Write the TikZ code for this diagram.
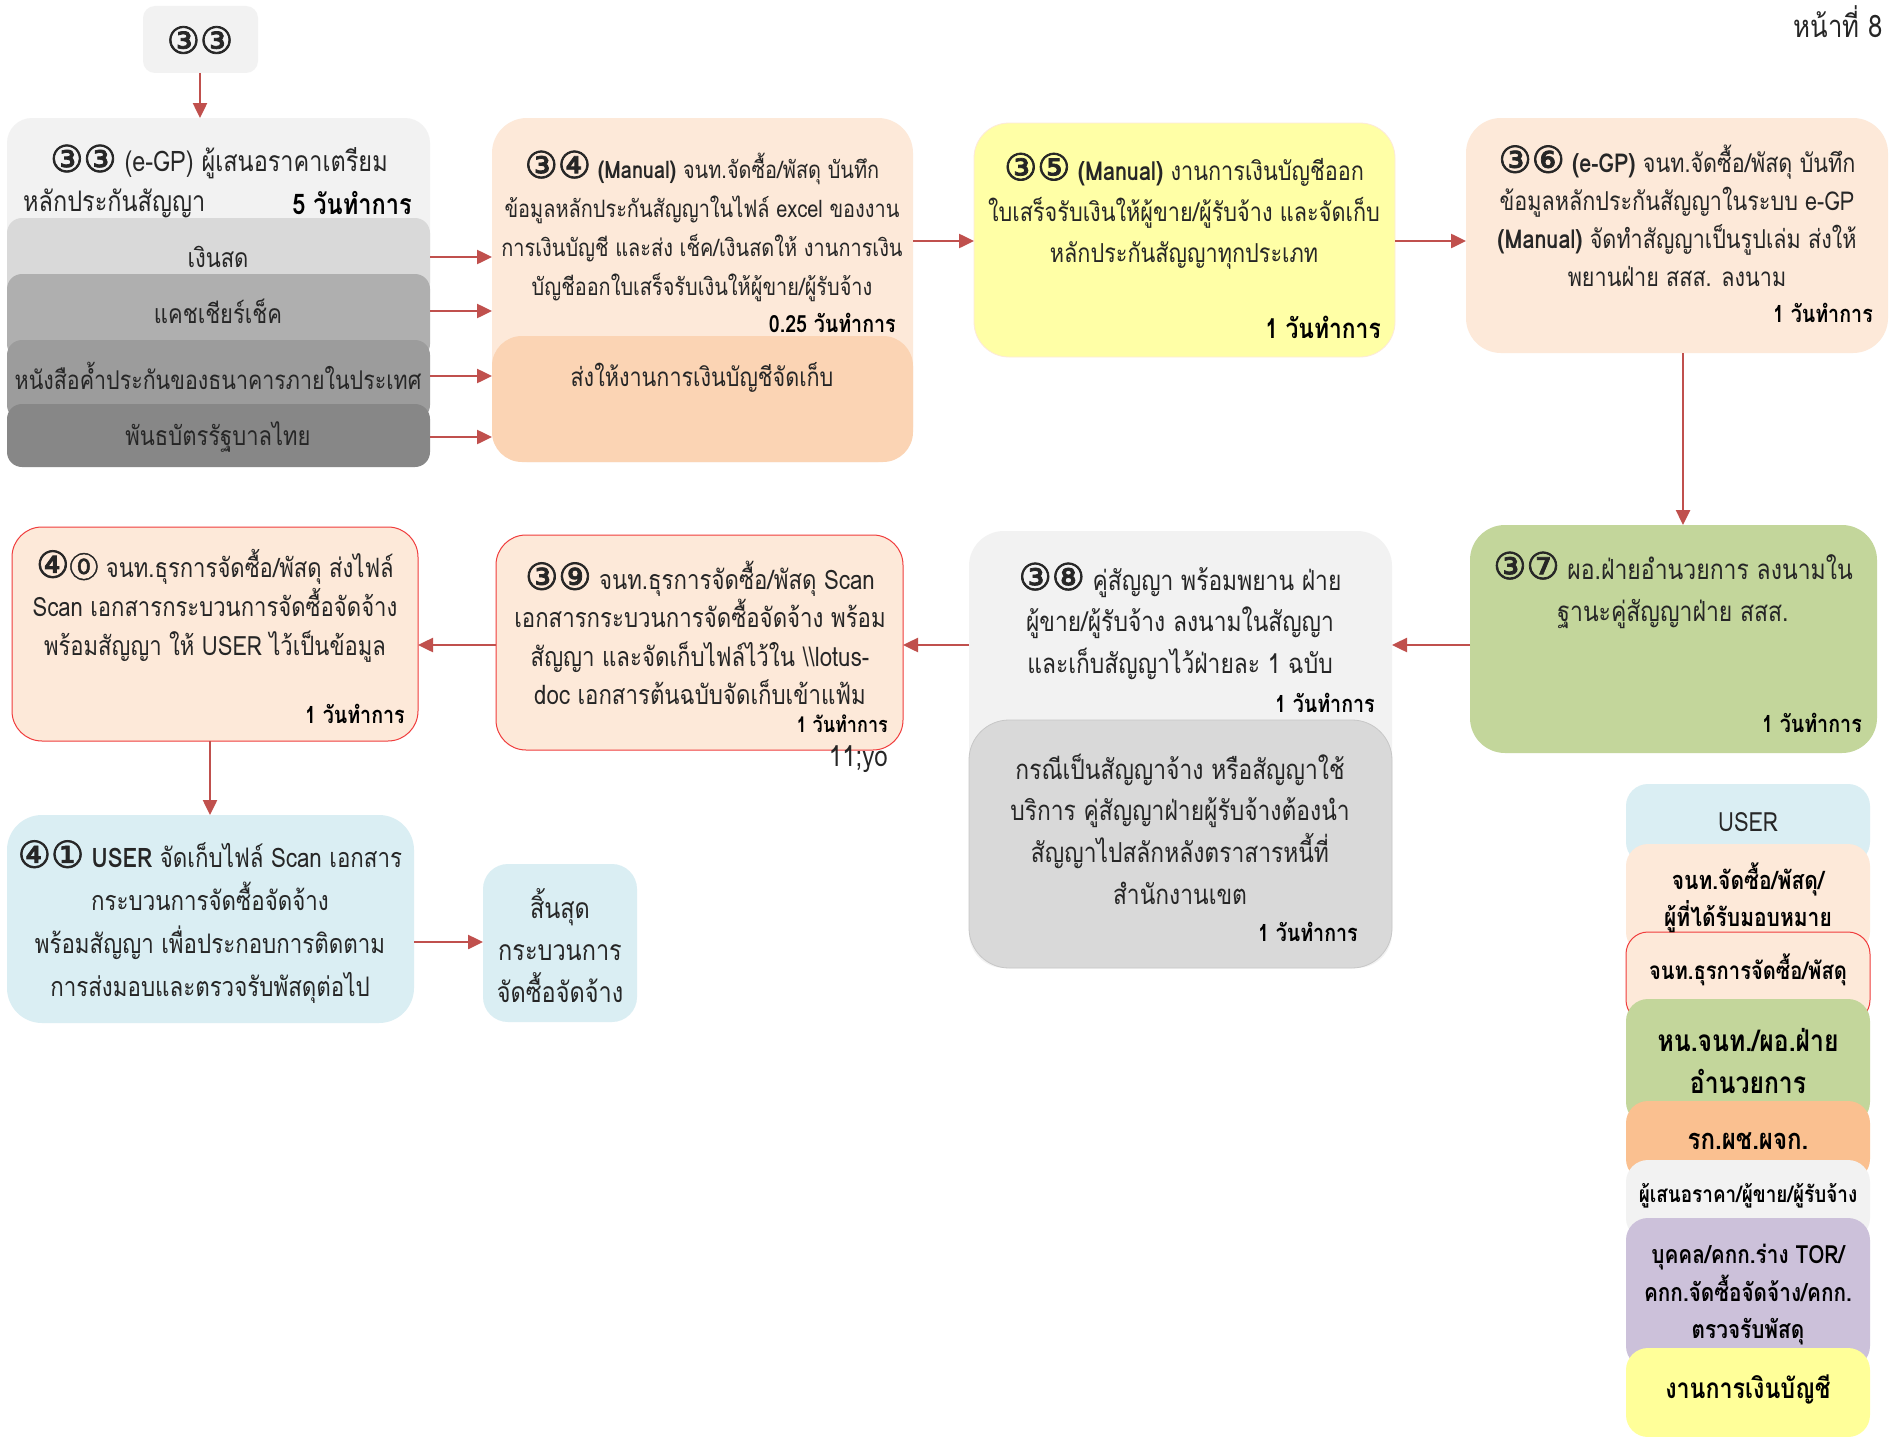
\documentclass[tikz,border=0pt]{standalone}
\usepackage{fontspec}
\newfontfamily\thfont[Script=Thai, FakeStretch=0.83]{Loma}
\newfontfamily\dvfont[FakeBold=2]{DejaVu Sans}
\newfontfamily\cjkfont[FakeBold=1.5]{Noto Sans CJK SC}
\usetikzlibrary{arrows.meta}
\definecolor{arrc}{HTML}{C0504D}
\definecolor{gA}{HTML}{F2F2F2}
\definecolor{gB}{HTML}{D9D9D9}
\definecolor{gC}{HTML}{AFAFAF}
\definecolor{gD}{HTML}{9C9C9C}
\definecolor{gE}{HTML}{878787}
\definecolor{peach}{HTML}{FDE9D9}
\definecolor{peachB}{HTML}{FBD4B4}
\definecolor{yel}{HTML}{FFFFA6}
\definecolor{yelB}{HTML}{FFFF99}
\definecolor{grn}{HTML}{C3D69B}
\definecolor{blu}{HTML}{DAEEF3}
\definecolor{org}{HTML}{FAC090}
\definecolor{lil}{HTML}{CCC1DA}
\definecolor{redb}{HTML}{F03C3C}
\newcommand\fz[2]{\fontsize{#1}{#2}\selectfont}
\newcommand\cnum[1]{{\dvfont\fontsize{37}{37}\selectfont #1}}
\newcommand\cjnum[1]{{\cjkfont\fontsize{29}{29}\selectfont #1}}
\tikzset{
  bx/.style={rounded corners=#1, anchor=north west, inner sep=0pt, outer sep=0pt},
  bx/.default=30pt,
  tx/.style={font=\thfont\fz{24}{39}, align=center, inner sep=0pt, text=black!85},
  dy/.style={font=\thfont\bfseries\fz{23.7}{26}, anchor=east, inner sep=0pt},
  lg/.style={font=\thfont\bfseries\fz{25}{37}, align=center, inner sep=0pt},
  arr/.style={draw=arrc, line width=2.5pt, -{Triangle[length=15pt,width=14pt]}},
}
\begin{document}
\begin{tikzpicture}[x=1pt,y=-1pt]
\useasboundingbox[fill=white] (0,0) rectangle (1891,1437);

% page number
\node[tx, anchor=east, font=\thfont\fz{31}{34}] (pg) at (1883,22) {หน้าที่ 8};

% top start
\node[bx=12pt, fill=gA, minimum width=115pt, minimum height=67pt] (top33) at (143,6) {};
\node[tx] (top33t) at (200,40) {\cnum{③③}};

% box 33
\node[bx=25pt, fill=gA, minimum width=423pt, minimum height=200pt] (b33) at (7,118) {};
\node[tx, font=\thfont\fz{28.3}{39}] (b33t) at (219,162) {\cnum{③③} (e-GP) ผู้เสนอราคาเตรียม};
\node[tx, anchor=west, font=\thfont\fz{28.3}{39}] (b33u) at (23,203) {หลักประกันสัญญา};
\node[dy, font=\thfont\bfseries\fz{28.4}{30}] (b33d) at (412,203) {5 วันทำการ};
\node[bx=15pt, fill=gB, minimum width=423pt, minimum height=80pt] (s1) at (7,218) {};
\node[bx=15pt, fill=gC, minimum width=423pt, minimum height=85pt] (s2) at (7,274) {};
\node[bx=15pt, fill=gD, minimum width=423pt, minimum height=80pt] (s3) at (7,340) {};
\node[bx=15pt, fill=gE, minimum width=423pt, minimum height=63pt] (s4) at (7,404) {};
\node[tx, font=\thfont\fz{26.5}{30}] (s1t) at (218,257) {เงินสด};
\node[tx, font=\thfont\fz{26.5}{30}] (s2t) at (218,311) {แคชเชียร์เช็ค};
\node[tx, font=\thfont\fz{25.8}{30}] (s3t) at (218,376) {หนังสือค้ำประกันของธนาคารภายในประเทศ};
\node[tx, font=\thfont\fz{26.5}{30}] (s4t) at (218,437) {พันธบัตรรัฐบาลไทย};

% box 34
\node[bx=35pt, fill=peach, minimum width=421pt, minimum height=344pt] (b34) at (492,118) {};
\node[bx=30pt, fill=peachB, minimum width=421pt, minimum height=126pt] (b34s) at (492,336) {};
\node[tx] (b34t) at (702,226) {\cnum{③④} \textbf{(Manual)} จนท.จัดซื้อ/พัสดุ บันทึก\\ข้อมูลหลักประกันสัญญาในไฟล์ excel ของงาน\\การเงินบัญชี และส่ง เช็ค/เงินสดให้ งานการเงิน\\บัญชีออกใบเสร็จรับเงินให้ผู้ขาย/ผู้รับจ้าง};
\node[dy] (b34d) at (896,323) {0.25 วันทำการ};
\node[tx, font=\thfont\fz{26}{30}] (b34u) at (702,377) {ส่งให้งานการเงินบัญชีจัดเก็บ};

% box 35
\node[bx=35pt, fill=yel, draw=peach, line width=0.8pt, minimum width=421pt, minimum height=234pt] (b35) at (974,123) {};
\node[tx, font=\thfont\fz{26.1}{41}] (b35t) at (1184,211) {\cnum{③⑤} \textbf{(Manual)} งานการเงินบัญชีออก\\ใบเสร็จรับเงินให้ผู้ขาย/ผู้รับจ้าง และจัดเก็บ\\หลักประกันสัญญาทุกประเภท};
\node[dy, font=\thfont\bfseries\fz{27.5}{30}] (b35d) at (1381,327) {1 วันทำการ};

% box 36
\node[bx=35pt, fill=peach, minimum width=422pt, minimum height=235pt] (b36) at (1466,118) {};
\node[tx, font=\thfont\fz{26}{38}] (b36t) at (1677,216) {\cnum{③⑥} \textbf{(e-GP)} จนท.จัดซื้อ/พัสดุ บันทึก\\ข้อมูลหลักประกันสัญญาในระบบ e-GP\\\textbf{(Manual)} จัดทำสัญญาเป็นรูปเล่ม ส่งให้\\พยานฝ่าย สสส. ลงนาม};
\node[dy] (b36d) at (1873,313) {1 วันทำการ};

% box 37
\node[bx=35pt, fill=grn, minimum width=407pt, minimum height=228pt] (b37) at (1470,525) {};
\node[tx, font=\thfont\fz{27.7}{42}] (b37t) at (1673,590) {\cnum{③⑦} ผอ.ฝ่ายอำนวยการ ลงนามใน\\ฐานะคู่สัญญาฝ่าย สสส.};
\node[dy] (b37d) at (1862,723) {1 วันทำการ};

% box 38
\node[bx=35pt, fill=gA, minimum width=423pt, minimum height=437pt] (b38) at (969,531) {};
\node[bx=40pt, fill=gB, draw=black!22, line width=0.8pt, minimum width=423pt, minimum height=248pt] (b38s) at (969,720) {};
\node[tx, font=\thfont\fz{27.5}{41.5}] (b38t) at (1180,621) {\cnum{③⑧} คู่สัญญา พร้อมพยาน ฝ่าย\\ผู้ขาย/ผู้รับจ้าง ลงนามในสัญญา\\และเก็บสัญญาไว้ฝ่ายละ 1 ฉบับ};
\node[dy] (b38d) at (1375,703) {1 วันทำการ};
\node[tx, font=\thfont\fz{27.5}{41.7}] (b38u) at (1180,829) {กรณีเป็นสัญญาจ้าง หรือสัญญาใช้\\บริการ คู่สัญญาฝ่ายผู้รับจ้างต้องนำ\\สัญญาไปสลักหลังตราสารหนี้ที่\\สำนักงานเขต};
\node[dy] (b38e) at (1358,932) {1 วันทำการ};

% box 39
\node[bx=30pt, fill=peach, draw=redb, line width=1pt, minimum width=407pt, minimum height=215pt] (b39) at (496,535) {};
\node[tx, font=\thfont\fz{26.8}{38.3}] (b39t) at (700,633) {\cnum{③⑨} จนท.ธุรการจัดซื้อ/พัสดุ Scan\\เอกสารกระบวนการจัดซื้อจัดจ้าง พร้อม\\สัญญา และจัดเก็บไฟล์ไว้ใน \textbackslash\textbackslash lotus-\\doc เอกสารต้นฉบับจัดเก็บเข้าแฟ้ม};
\node[dy, font=\thfont\bfseries\fz{21.7}{24}] (b39d) at (888,724) {1 วันทำการ};
\node[tx, anchor=east, font=\thfont\fz{29}{32}] (note) at (888,759) {11;yo};

% box 40
\node[bx=30pt, fill=peach, draw=redb, line width=1pt, minimum width=406pt, minimum height=214pt] (b40) at (12,527) {};
\node[tx, font=\thfont\fz{26.6}{39}] (b40t) at (215,606) {\cnum{④}\cjnum{⓪} จนท.ธุรการจัดซื้อ/พัสดุ ส่งไฟล์\\Scan เอกสารกระบวนการจัดซื้อจัดจ้าง\\พร้อมสัญญา ให้ USER ไว้เป็นข้อมูล};
\node[dy] (b40d) at (405,714) {1 วันทำการ};

% box 41
\node[bx=35pt, fill=blu, minimum width=407pt, minimum height=208pt] (b41) at (7,815) {};
\node[tx, font=\thfont\fz{26.9}{43}] (b41t) at (210,922) {\cnum{④①} \textbf{USER} จัดเก็บไฟล์ Scan เอกสาร\\กระบวนการจัดซื้อจัดจ้าง\\พร้อมสัญญา เพื่อประกอบการติดตาม\\การส่งมอบและตรวจรับพัสดุต่อไป};

% end
\node[bx=25pt, fill=blu, minimum width=154pt, minimum height=158pt] (end) at (483,864) {};
\node[tx, font=\thfont\fz{28.3}{42}] (endt) at (560,946) {สิ้นสุด\\กระบวนการ\\จัดซื้อจัดจ้าง};

% legend
\node[bx=22pt, fill=blu, minimum width=244pt, minimum height=80pt] (L1) at (1626,784) {};
\node[bx=22pt, fill=peach, minimum width=244pt, minimum height=110pt] (L2) at (1626,844) {};
\node[bx=22pt, fill=peach, draw=redb, line width=1pt, minimum width=244pt, minimum height=90pt] (L3) at (1626,932) {};
\node[bx=22pt, fill=grn, minimum width=244pt, minimum height=125pt] (L4) at (1626,999) {};
\node[bx=22pt, fill=org, minimum width=244pt, minimum height=80pt] (L5) at (1626,1101) {};
\node[bx=22pt, fill=gA, minimum width=244pt, minimum height=80pt] (L6) at (1626,1160) {};
\node[bx=22pt, fill=lil, minimum width=244pt, minimum height=150pt] (L7) at (1626,1218) {};
\node[bx=22pt, fill=yelB, minimum width=244pt, minimum height=89pt] (L8) at (1626,1348) {};
\node[tx, font=\thfont\fz{26.5}{30}] (L1t) at (1748,822) {USER};
\node[lg, font=\thfont\bfseries\fz{25.3}{37}] (L2t) at (1748,898) {จนท.จัดซื้อ/พัสดุ/\\ผู้ที่ได้รับมอบหมาย};
\node[lg, font=\thfont\bfseries\fz{24.3}{28}] (L3t) at (1748,970) {จนท.ธุรการจัดซื้อ/พัสดุ};
\node[lg, font=\thfont\bfseries\fz{29.8}{42}] (L4t) at (1748,1061) {หน.จนท./ผอ.ฝ่าย\\อำนวยการ};
\node[lg, font=\thfont\bfseries\fz{29}{32}] (L5t) at (1748,1141) {รก.ผช.ผจก.};
\node[lg, font=\thfont\bfseries\fz{22.8}{26}] (L6t) at (1748,1196) {ผู้เสนอราคา/ผู้ขาย/ผู้รับจ้าง};
\node[lg, font=\thfont\bfseries\fz{25}{37.5}] (L7t) at (1748,1295) {บุคคล/คกก.ร่าง TOR/\\คกก.จัดซื้อจัดจ้าง/คกก.\\ตรวจรับพัสดุ};
\node[lg, font=\thfont\bfseries\fz{28}{32}] (L8t) at (1748,1389) {งานการเงินบัญชี};

% connector helper coordinates
\coordinate (rowA) at (0,241);
\coordinate (rowB) at (0,645);
\coordinate (rowC) at (0,942);
\coordinate (colA) at (1683,0);
\coordinate (colB) at (210,0);
\coordinate (colC) at (200,0);

% connectors
\draw[arr] (top33.south -| colC) -- (b33.north -| colC);
\draw[arr] (s1.east |- s1t) -- (b34.west |- s1t);
\draw[arr] (s2.east |- s2t) -- (b34.west |- s2t);
\draw[arr] (s3.east |- s3t) -- (b34.west |- s3t);
\draw[arr] (s4.east |- s4t) -- (b34.west |- s4t);
\draw[arr] (b34.east |- rowA) -- (b35.west |- rowA);
\draw[arr] (b35.east |- rowA) -- (b36.west |- rowA);
\draw[arr] (b36.south -| colA) -- (b37.north -| colA);
\draw[arr] (b37.west |- rowB) -- (b38.east |- rowB);
\draw[arr] (b38.west |- rowB) -- (b39.east |- rowB);
\draw[arr] (b39.west |- rowB) -- (b40.east |- rowB);
\draw[arr] (b40.south -| colB) -- (b41.north -| colB);
\draw[arr] (b41.east |- rowC) -- (end.west |- rowC);
\end{tikzpicture}
\end{document}
